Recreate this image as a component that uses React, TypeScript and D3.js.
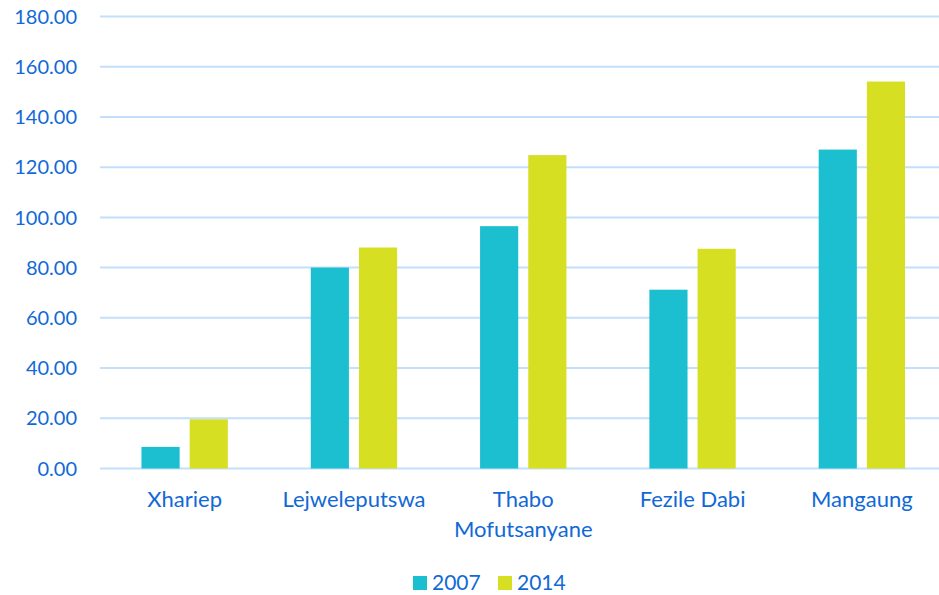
import React, { useEffect, useRef } from "react";
import * as d3 from "d3";

const districts = ["Xhariep", "Lejweleputswa", "Thabo Mofutsanyane", "Fezile Dabi", "Mangaung"];
const districtLines = [["Xhariep"], ["Lejweleputswa"], ["Thabo", "Mofutsanyane"], ["Fezile Dabi"], ["Mangaung"]];
const years = ["2007", "2014"];
const values2007 = [8.6, 80.0, 96.5, 71.2, 127.0];
const values2014 = [19.6, 88.0, 124.8, 87.5, 154.1];
const yTicks = [0, 20, 40, 60, 80, 100, 120, 140, 160, 180];

const colors = ["#1bbfcf", "#d6df22"];
const textColor = "#1169d6";
const gridColor = "#c3dffa";
const font = "Lato, 'Open Sans', sans-serif";

const App = () => {
  const ref = useRef<SVGSVGElement>(null);

  useEffect(() => {
    const width = 939;
    const height = 595;
    const svg = d3.select(ref.current);
    svg.selectAll("*").remove();

    const y = d3.scaleLinear().domain([0, 180]).range([468.5, 16.5]);
    const x = d3.scaleBand().domain(districts).range([100, 946.5]).paddingInner(0.49).paddingOuter(0.245);
    const xs = d3.scaleBand().domain(years).range([0, x.bandwidth()]).paddingInner(0.2083);

    // gridlines
    svg.append("g")
      .selectAll("line")
      .data(yTicks)
      .enter()
      .append("line")
      .attr("x1", 100)
      .attr("x2", width)
      .attr("y1", (d) => y(d))
      .attr("y2", (d) => y(d))
      .attr("stroke", gridColor)
      .attr("stroke-width", 2);

    // y labels
    svg.append("g")
      .selectAll("text")
      .data(yTicks)
      .enter()
      .append("text")
      .attr("x", 77)
      .attr("y", (d) => y(d))
      .attr("dy", "0.36em")
      .attr("text-anchor", "end")
      .style("font-family", font)
      .style("font-size", "20px")
      .style("fill", textColor)
      .text((d) => d.toFixed(2));

    // bars
    const series = [values2007, values2014];
    const groups = svg.append("g")
      .selectAll("g")
      .data(districts)
      .enter()
      .append("g")
      .attr("transform", (d) => `translate(${x(d)},0)`);

    groups.selectAll("rect")
      .data((d, i) => years.map((yr, k) => ({ yr, v: series[k][i], k })))
      .enter()
      .append("rect")
      .attr("x", (d) => xs(d.yr) as number)
      .attr("width", xs.bandwidth())
      .attr("y", (d) => y(d.v))
      .attr("height", (d) => y(0) - y(d.v))
      .attr("fill", (d) => colors[d.k]);

    // category labels
    const labels = svg.append("g")
      .selectAll("text")
      .data(districts)
      .enter()
      .append("text")
      .attr("text-anchor", "middle")
      .attr("transform", (d) => `translate(${(x(d) as number) + x.bandwidth() / 2},507)`)
      .style("font-family", font)
      .style("font-size", "22px")
      .style("fill", textColor);

    labels.each(function (d, i) {
      const t = d3.select(this);
      districtLines[i].forEach((line, j) => {
        t.append("tspan")
          .attr("x", 0)
          .attr("dy", j === 0 ? 0 : 30)
          .text(line);
      });
    });

    // legend
    const legend = svg.append("g");
    const legendX = [413, 498];
    years.forEach((yr, k) => {
      legend.append("rect")
        .attr("x", legendX[k])
        .attr("y", 576)
        .attr("width", 14)
        .attr("height", 14)
        .attr("fill", colors[k]);
      legend.append("text")
        .attr("x", legendX[k] + 19)
        .attr("y", 590)
        .style("font-family", font)
        .style("font-size", "21px")
        .style("fill", textColor)
        .text(yr);
    });

    svg.attr("width", width).attr("height", height);
  }, []);

  return (
    <svg
      ref={ref}
      width={939}
      height={595}
      style={{ position: "absolute", left: 0, top: 0, background: "#fff" }}
    ></svg>
  );
};

export default App;
